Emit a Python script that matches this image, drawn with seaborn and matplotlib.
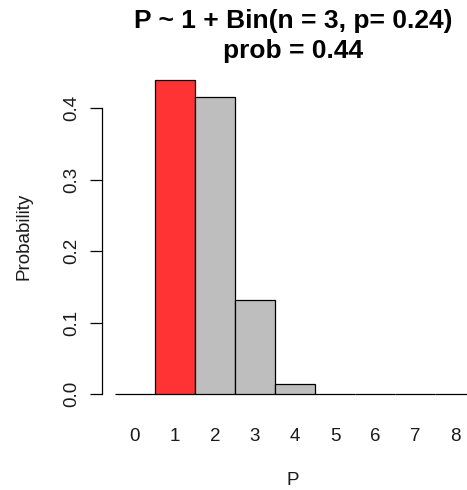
import numpy as np
import pandas as pd
import seaborn as sns
import matplotlib.pyplot as plt

# values of P = 1 + Bin(3, 0.24)
p_values = [0, 1, 2, 3, 4, 5, 6, 7, 8]
probs = [0.0, 0.439, 0.416, 0.131, 0.0138, 0.0, 0.0, 0.0, 0.0]
highlight = 1
y_ticks = [0.0, 0.1, 0.2, 0.3, 0.4]
y_labels = ['0.0', '0.1', '0.2', '0.3', '0.4']

sns.set_theme(style='white')
plt.rcParams['font.family'] = ['Liberation Sans', 'DejaVu Sans']

df = pd.DataFrame({'P': [str(v) for v in p_values], 'Probability': probs})
bar_colors = ['#FF3333' if v == highlight else '#BEBEBE' for v in p_values]

fig = plt.figure(figsize=(4.67, 4.90), dpi=100)
ax = fig.add_axes([0.2184, 0.1667, 0.818, 0.7004])

sns.barplot(data=df, x='P', y='Probability', hue='P', palette=bar_colors,
            legend=False, width=1.0, edgecolor='black', linewidth=0.9,
            saturation=1, ax=ax)

ax.set_xlim(-0.825, 8.725)
ax.set_ylim(-0.02, 0.46)

for side in ['top', 'right', 'bottom']:
    ax.spines[side].set_visible(False)
ax.spines['left'].set_bounds(0, 0.4)
ax.spines['left'].set_color('black')
ax.spines['left'].set_linewidth(0.9)

ax.set_yticks(y_ticks)
ax.set_yticklabels(y_labels, rotation=90, va='center')
ax.tick_params(axis='y', length=8.6, width=0.9, color='black', left=True,
               labelsize=13.5, pad=7, labelcolor='#1a1a1a')
ax.tick_params(axis='x', length=0, labelsize=13.5, pad=14, labelcolor='#1a1a1a')

ax.set_xlabel('P', fontsize=13.5, color='#1a1a1a', va='center')
ax.xaxis.set_label_coords(0.5, -0.209)
ax.set_ylabel('Probability', fontsize=13.5, color='#1a1a1a', va='center')
ax.yaxis.set_label_coords(-0.204, 0.5)

fig.text(293 / 467, 1 - 36 / 490, 'P ~ 1 + Bin(n = 3, p= 0.24)\nprob = 0.44',
         ha='center', va='center', fontsize=19, fontweight='bold',
         linespacing=1.35, color='black')

fig.savefig('out.png', dpi=100)
